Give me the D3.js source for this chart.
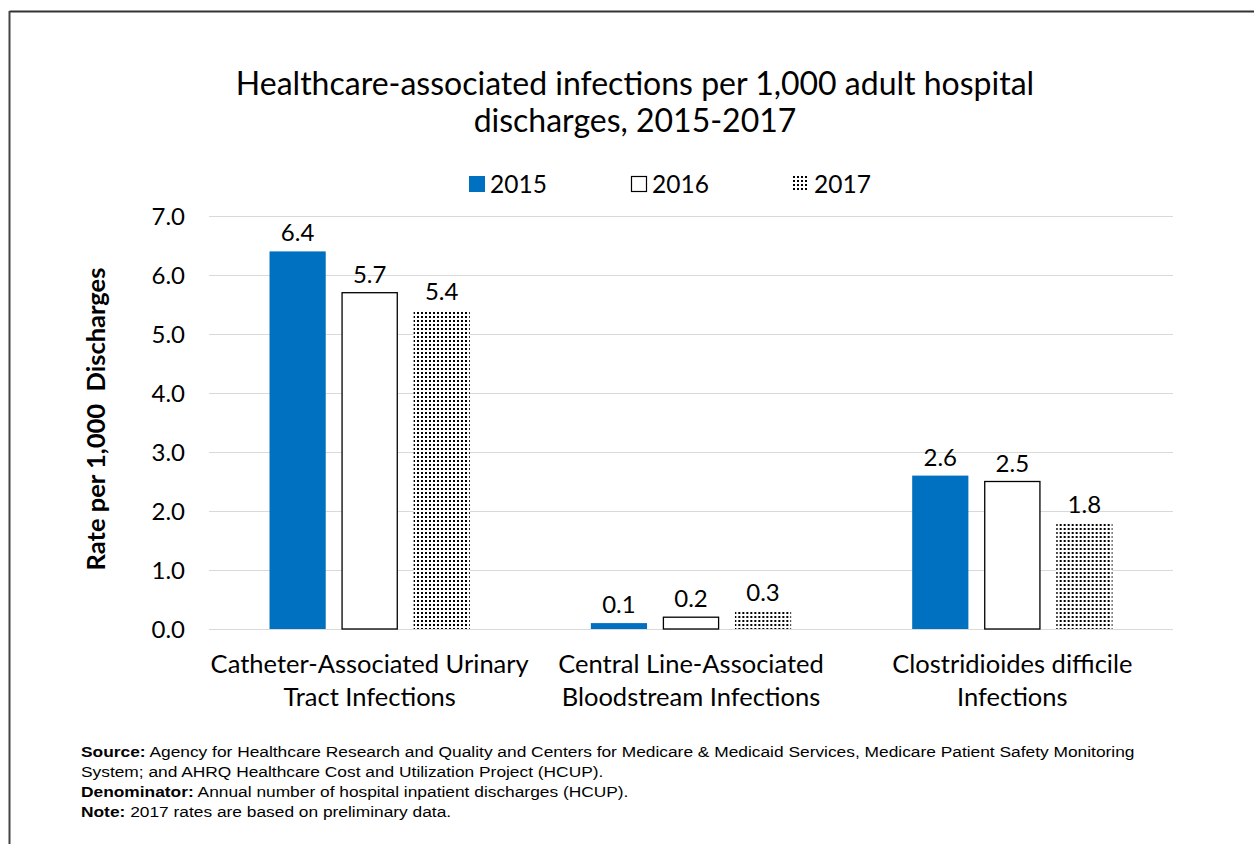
<!DOCTYPE html>
<html><head><meta charset="utf-8">
<script src="https://cdn.jsdelivr.net/npm/d3@7"></script>
<style>
html,body{margin:0;padding:0;background:#fff;}
svg{display:block;}
</style></head>
<body>
<svg id="chart" width="1254" height="844"></svg>
<script>
const categories = [["Catheter-Associated Urinary","Tract Infections"],["Central Line-Associated","Bloodstream Infections"],["Clostridioides difficile","Infections"]];
const seriesNames = ["2015","2016","2017"];
const values2015 = [6.4, 0.1, 2.6];
const values2016 = [5.7, 0.2, 2.5];
const values2017 = [5.4, 0.3, 1.8];
const yTicks = [0,1,2,3,4,5,6,7];
const titleLines = ["Healthcare-associated infections per 1,000 adult hospital","discharges, 2015-2017"];
const yTitle = "Rate per 1,000  Discharges";
const notes = [
  [["Source:", true], [" Agency for Healthcare Research and Quality and Centers for Medicare & Medicaid Services, Medicare Patient Safety Monitoring", false]],
  [["System; and AHRQ Healthcare Cost and Utilization Project (HCUP).", false]],
  [["Denominator:", true], [" Annual number of hospital inpatient discharges (HCUP).", false]],
  [["Note:", true], [" 2017 rates are based on preliminary data.", false]]
];

const series = [values2015, values2016, values2017];
const svg = d3.select("#chart");
const font = "Lato, 'Open Sans', sans-serif";

// pattern
const defs = svg.append("defs");
const pat = defs.append("pattern").attr("id","dots").attr("patternUnits","userSpaceOnUse")
  .attr("width",4).attr("height",4);
pat.append("rect").attr("width",4).attr("height",4).attr("fill","#fff");
pat.append("rect").attr("x",0).attr("y",0).attr("width",2).attr("height",2).attr("fill","#000");

// frame
svg.append("line").attr("x1",9.5).attr("x2",1254).attr("y1",11.5).attr("y2",11.5).attr("stroke","#333").attr("stroke-width",2);
svg.append("line").attr("x1",9.5).attr("x2",9.5).attr("y1",11).attr("y2",844).attr("stroke","#444").attr("stroke-width",2);

const plot = {left:209, right:1173, top:216, bottom:629};
const y = d3.scaleLinear().domain([0,7]).range([plot.bottom, plot.top]);
const x0 = d3.scaleBand().domain(d3.range(categories.length)).range([plot.left, plot.right]).paddingInner(0).paddingOuter(0);
const x1 = d3.scaleBand().domain(seriesNames).range([0, x0.bandwidth()]).paddingInner(0.22).paddingOuter(0.84);

// gridlines
svg.append("g").selectAll("line").data(yTicks).join("line")
  .attr("x1",plot.left).attr("x2",plot.right)
  .attr("y1",d=>Math.round(y(d))+0.5).attr("y2",d=>Math.round(y(d))+0.5)
  .attr("stroke","#d9d9d9").attr("stroke-width",1);

// y axis labels via d3 axis
const yAxis = svg.append("g").attr("transform",`translate(${plot.left},0)`)
  .call(d3.axisLeft(y).tickValues(yTicks).tickFormat(d3.format(".1f")).tickSize(0).tickPadding(24));
yAxis.select(".domain").remove();
yAxis.selectAll("text").attr("font-family",font).attr("font-size",24).attr("fill","#000").attr("dy","0.36em");

// bars
const fills = ["#0070C0","#fff","url(#dots)"];
const groups = svg.append("g").selectAll("g").data(categories).join("g")
  .attr("transform",(d,i)=>`translate(${x0(i)},0)`);
groups.each(function(c,ci){
  const g = d3.select(this);
  seriesNames.forEach((s,si)=>{
    const v = series[si][ci];
    const bx = x1(s), bw = x1.bandwidth();
    const r = g.append("rect").attr("x",bx).attr("width",bw)
      .attr("y",y(v)).attr("height",y(0)-y(v)).attr("fill",fills[si]);
    if(si===1) r.attr("stroke","#000").attr("stroke-width",1.3).attr("x",bx+0.5).attr("width",bw-1);
    g.append("text").attr("x",bx+bw/2).attr("y",y(v)-10).attr("text-anchor","middle")
      .attr("font-family",font).attr("font-size",24).attr("fill","#000").text(v.toFixed(1));
  });
});

// category labels
const xAxis = svg.append("g");
categories.forEach((c,ci)=>{
  const cx = x0(ci)+x0.bandwidth()/2;
  c.forEach((line,li)=>{
    xAxis.append("text").attr("x",cx).attr("y",673+li*33).attr("text-anchor","middle")
      .attr("font-family",font).attr("font-size",25.5).attr("fill","#000").text(line);
  });
});

// title
titleLines.forEach((t,i)=>{
  svg.append("text").attr("x",635).attr("y",95+i*37).attr("text-anchor","middle")
    .attr("font-family",font).attr("font-size",32).attr("fill","#000").text(t);
});

// legend
const legX = [469, 631, 793];
seriesNames.forEach((s,i)=>{
  const g = svg.append("g").attr("transform",`translate(${legX[i]},176)`);
  const r = g.append("rect").attr("width",16).attr("height",16).attr("fill",fills[i]);
  if(i===1) r.attr("x",0.5).attr("y",0.5).attr("width",15).attr("height",15).attr("stroke","#000").attr("stroke-width",1.2);
  g.append("text").attr("x",21).attr("y",17).attr("font-family",font).attr("font-size",24.5).attr("fill","#000").text(s);
});

// y title
svg.append("text").attr("transform",`translate(105,419) rotate(-90)`).attr("text-anchor","middle")
  .attr("font-family",font).attr("font-weight","bold").attr("font-size",25.5).attr("fill","#000")
  .attr("xml:space","preserve").style("white-space","pre").text(yTitle);

// notes
notes.forEach((ln,i)=>{
  const t = svg.append("text").attr("transform",`translate(81,${757+i*20}) scale(1.12,1)`)
    .attr("font-family","'Liberation Sans', Arial, sans-serif").attr("font-size",15.5).attr("fill","#000");
  ln.forEach(([txt,b])=>{
    t.append("tspan").attr("font-weight",b?"bold":"normal").style("white-space","pre").text(txt);
  });
});
</script>
</body></html>
